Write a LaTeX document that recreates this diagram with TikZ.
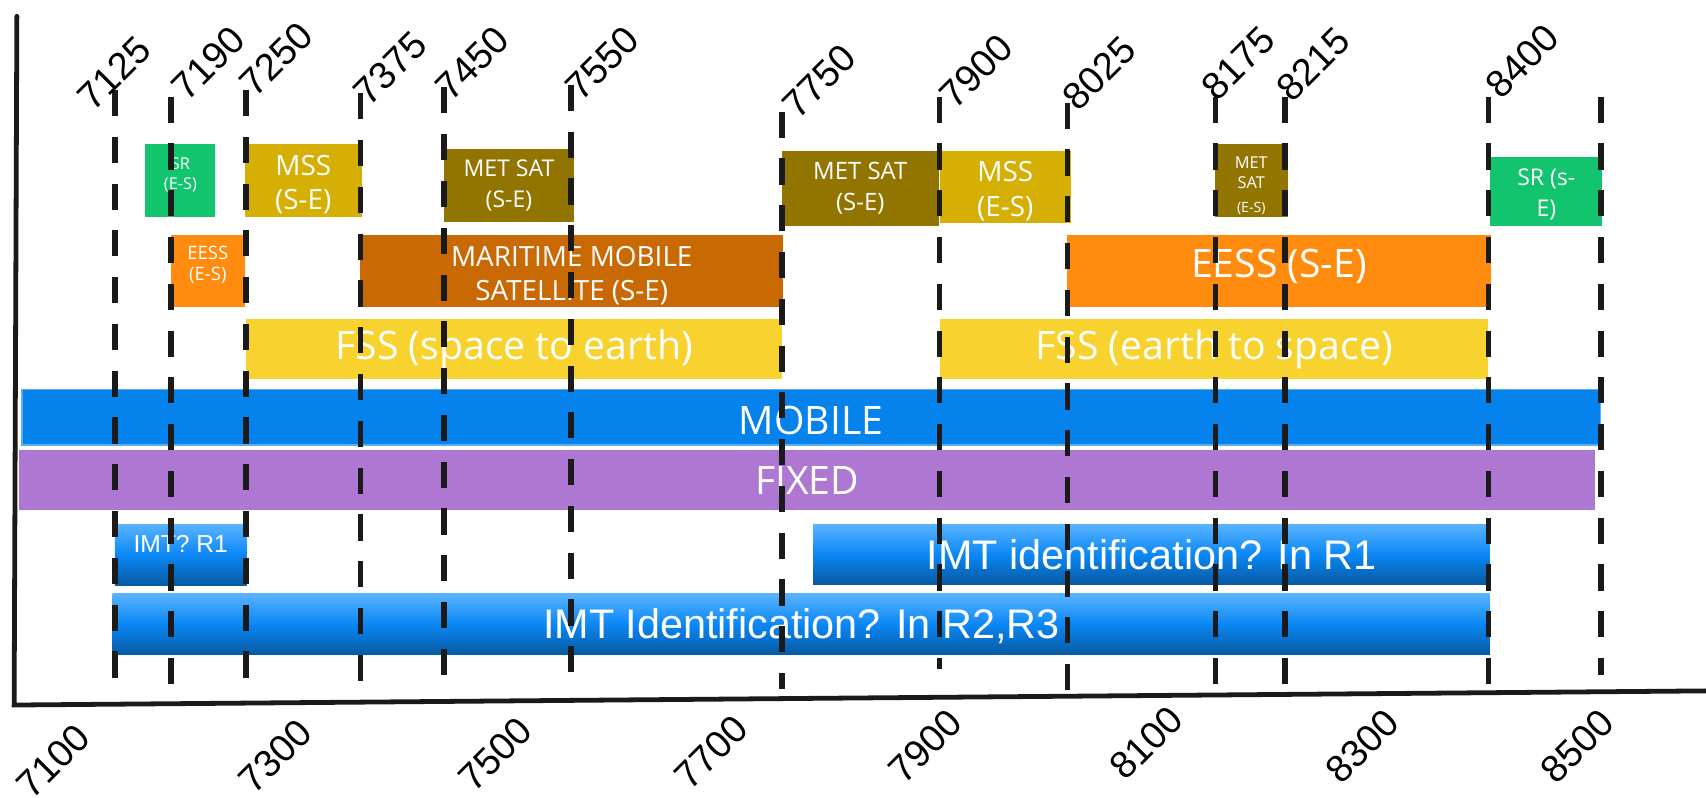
\documentclass[tikz,border=0pt]{standalone}
\usepackage{fontspec}
\setmainfont{Open Sans}
\newfontfamily\arialf{Liberation Sans}
\definecolor{srgreen}{HTML}{13C46F}
\definecolor{mssy}{HTML}{D6AF05}
\definecolor{metsat}{HTML}{917500}
\definecolor{eesso}{HTML}{FF8C0E}
\definecolor{marit}{HTML}{C96903}
\definecolor{fssy}{HTML}{F8D32F}
\definecolor{mobileb}{HTML}{0582EC}
\definecolor{mobileedge}{HTML}{5AAEF5}
\definecolor{fixedp}{HTML}{AE78D2}
\definecolor{imttop}{HTML}{5AB4FF}
\definecolor{imtmid}{HTML}{0A87F5}
\definecolor{imtbot}{HTML}{0759A0}
\definecolor{dashc}{HTML}{1A1A1A}
\newcommand{\fsz}[2]{\fontsize{#1}{#2}\selectfont}
\begin{document}
\begin{tikzpicture}[x=0.5pt,y=-0.5pt,
  band/.style={fill=#1, draw=none, inner sep=0pt, rectangle},
  imtbox/.style={inner sep=0pt, rectangle, top color=imttop, bottom color=imtbot, middle color=imtmid},
  btext/.style={inner sep=0pt, text=white, align=center},
  dashv/.style={draw=dashc, line width=2.5pt, dash pattern=on 12pt off 9.5pt},
  toplab/.style={rotate=45, anchor=base west, inner sep=0pt, font=\arialf\fsz{17.5}{20}},
  axisline/.style={draw=dashc, line width=2.2pt, line cap=round}]
\useasboundingbox (0,0) rectangle (1568,732.6);

% bands (boxes)
\node[band=srgreen, minimum width=32.15pt, minimum height=33.35pt] (sr1) at (165.85,165.75) {};
\node[band=mssy, minimum width=53.7pt, minimum height=33.35pt] (mss1) at (278.7,165.75) {};
\node[band=metsat, minimum width=59.8pt, minimum height=33.35pt] (met1) at (467.8,170.35) {};
\node[band=eesso, minimum width=34pt, minimum height=33.25pt] (eess1) at (191,249.25) {};
\node[band=marit, minimum width=194.2pt, minimum height=33.25pt] (mar) at (525.5,249.25) {};
\node[band=metsat, minimum width=72.1pt, minimum height=34.3pt] (met2) at (790.7,173.1) {};
\node[band=mssy, minimum width=60.15pt, minimum height=33.25pt] (mss2) at (923.95,172.05) {};
\node[band=eesso, minimum width=195pt, minimum height=33.25pt] (eess2) at (1175.6,249.25) {};
\node[band=metsat, minimum width=33.45pt, minimum height=33.35pt] (met3) at (1150.05,165.75) {};
\node[band=srgreen, minimum width=51.35pt, minimum height=31.55pt] (sr2) at (1421.25,175.85) {};
\node[band=fssy, minimum width=246.05pt, minimum height=27.75pt] (fss1) at (472.55,320.95) {};
\node[band=fssy, minimum width=252.1pt, minimum height=27.75pt] (fss2) at (1115.9,320.95) {};
\node[band=mobileb, draw=mobileedge, line width=0.8pt, minimum width=725.5pt, minimum height=25.6pt] (mobile) at (745.5,383.5) {};
\node[band=fixedp, minimum width=724.2pt, minimum height=27.6pt] (fixed) at (741.8,441.2) {};
\node[imtbox, minimum width=60.55pt, minimum height=28.3pt] (imt1) at (166.15,510) {};
\node[imtbox, minimum width=311pt, minimum height=27.9pt] (imt2) at (1058.4,509.6) {};
\node[imtbox, minimum width=632.9pt, minimum height=28.3pt] (imt3) at (736.5,573.7) {};

% band texts
\node[btext, font=\fsz{7.5}{9.4}] (sr1t) at ([yshift=2.5pt]sr1.center) {SR\\(E-S)};
\node[btext, font=\fsz{12.8}{15.4}] (mss1t) at ([yshift=-2pt]mss1.center) {MSS\\(S-E)};
\node[btext, font=\fsz{10.6}{14.2}] (met1t) at (met1.center) {MET SAT\\(S-E)};
\node[btext, font=\fsz{8.5}{10}] (eess1t) at ([yshift=3pt]eess1.center) {EESS\\(E-S)};
\node[btext, font=\fsz{12.8}{16}] (mart) at ([yshift=-2pt]mar.center) {MARITIME MOBILE\\SATELLITE (S-E)};
\node[btext, font=\fsz{11}{14.5}] (met2t) at (met2.center) {MET SAT\\(S-E)};
\node[btext, font=\fsz{12.8}{16}] (mss2t) at ([yshift=-1.7pt]mss2.center) {MSS\\(E-S)};
\node[btext, font=\fsz{18}{22}] (eess2t) at ([yshift=2pt]eess2.center) {EESS (S-E)};
\node[btext, font=\fsz{7.5}{9}] (met3t) at ([yshift=-2.5pt]met3.center) {MET\\SAT\\[2pt]{\fsz{6.5}{8}(E-S)}};
\node[btext, font=\fsz{10.6}{14.2}] (sr2t) at ([yshift=-1.5pt]sr2.center) {SR (s-\\E)};
\node[btext, font=\fsz{18}{22}] (fss1t) at (fss1.center) {FSS (space to earth)};
\node[btext, font=\fsz{18}{22}] (fss2t) at (fss2.center) {FSS (earth to space)};
\node[btext, font=\fsz{18}{22}] (mobilet) at ([yshift=-1.5pt]mobile.center) {MOBILE};
\node[btext, font=\fsz{18}{22}] (fixedt) at (fixed.center) {FIXED};
\node[btext, font=\arialf\fsz{11.3}{13}] (imt1t) at ([yshift=5pt]imt1.center) {IMT? R1};
\node[btext, font=\arialf\fsz{19}{22}] (imt2t) at (imt2.center) {IMT identification? In R1};
\node[btext, font=\arialf\fsz{19}{22}] (imt3t) at ([yshift=-1pt]imt3.center) {IMT Identification? In R2,R3};

% axes
\coordinate (ytop) at (15.5,15);
\coordinate (origin) at (13,648);
\coordinate (xend) at (1568,635);
\draw[axisline] (ytop) -- (origin) -- (xend);

% dashed frequency lines
\foreach \n/\x/\t/\b in {a/105.5/82.7/628, b/157.2/88.8/633, c/226.2/82.7/628, d/331.3/85.8/630,
  e/408/80.3/625, f/524.8/78/620, g/718.6/102.6/633, h/863.5/88.8/615, i/981/94.4/635,
  j/1117.3/88.8/630, k/1181.2/88.8/630, l/1368.3/88.8/630, m/1471.6/88.8/620}{
  \coordinate (t\n) at (\x,\t);
  \coordinate (b\n) at (\x,\b);
  \draw[dashv] (t\n) -- (b\n);
}

% top labels
\node[toplab] (l7125) at (85.6,103.4) {7125};
\node[toplab] (l7190) at (171.8,94.2) {7190};
\node[toplab] (l7250) at (235,91.1) {7250};
\node[toplab] (l7375) at (339,98.8) {7375};
\node[toplab] (l7450) at (414.5,94.2) {7450};
\node[toplab] (l7550) at (534,94.2) {7550};
\node[toplab] (l7750) at (733.8,111) {7750};
\node[toplab] (l7900) at (878,101.8) {7900};
\node[toplab] (l8025) at (990.6,103.4) {8025};
\node[toplab] (l8175) at (1119,94.2) {8175};
\node[toplab] (l8215) at (1187.6,95.7) {8215};
\node[toplab] (l8400) at (1380,92.7) {8400};

% bottom labels
\node[toplab] (b7100) at (30,735.7) {7100};
\node[toplab] (b7300) at (234,731) {7300};
\node[toplab] (b7500) at (435.5,729.6) {7500};
\node[toplab] (b7700) at (634.8,728) {7700};
\node[toplab] (b7900) at (830.9,722) {7900};
\node[toplab] (b8100) at (1034,719) {8100};
\node[toplab] (b8300) at (1233,722) {8300};
\node[toplab] (b8500) at (1430.5,722) {8500};
\end{tikzpicture}
\end{document}
